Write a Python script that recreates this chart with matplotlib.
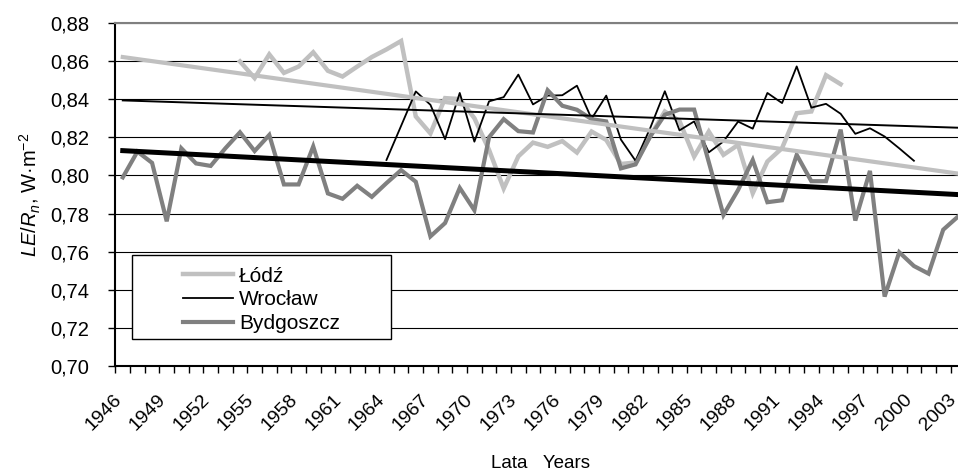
import numpy as np
import matplotlib
matplotlib.use('Agg')
import matplotlib.pyplot as plt
import matplotlib.transforms as mtransforms
from matplotlib.patches import Rectangle

plt.rcParams['font.family'] = ['Liberation Sans', 'DejaVu Sans']
plt.rcParams['mathtext.fontset'] = 'custom'
plt.rcParams['mathtext.rm'] = 'Liberation Sans'
plt.rcParams['mathtext.it'] = 'Liberation Sans:italic'

# data
years = np.arange(1946, 2004)

lodz_start = 1954
lodz = [0.8597, 0.851, 0.8634, 0.8537, 0.857, 0.8645, 0.8548, 0.8518, 0.857, 0.862,
        0.866, 0.8704, 0.8309, 0.822, 0.8405, 0.840, 0.830, 0.8134, 0.7932, 0.810,
        0.8172, 0.815, 0.818, 0.812, 0.823, 0.8186, 0.806, 0.8068, 0.8205, 0.8335,
        0.8285, 0.8099, 0.823, 0.8108, 0.816, 0.7907, 0.8073, 0.8143, 0.8326, 0.8335,
        0.8525, 0.8478]

wroclaw_start = 1964
wroclaw = [0.8081, 0.826, 0.844, 0.837, 0.819, 0.8432, 0.8177, 0.8388, 0.841, 0.8528,
           0.8372, 0.8418, 0.8420, 0.847, 0.8297, 0.8418, 0.8188, 0.8077, 0.8248, 0.8441,
           0.8236, 0.8283, 0.8121, 0.8178, 0.8282, 0.8245, 0.8432, 0.8379, 0.8571, 0.8355,
           0.8375, 0.8323, 0.8218, 0.8247, 0.8204, 0.8142, 0.8077]

bydgoszcz_start = 1946
bydgoszcz = [0.799, 0.8125, 0.8066, 0.776, 0.8142, 0.8063, 0.805, 0.8142, 0.8226, 0.8128,
             0.8212, 0.7953, 0.7953, 0.8152, 0.7906, 0.7878, 0.7946, 0.7888, 0.796, 0.8028,
             0.7967, 0.7681, 0.7751, 0.7935, 0.7818, 0.820, 0.8295, 0.8232, 0.8225, 0.8446,
             0.8365, 0.8344, 0.8295, 0.8283, 0.8037, 0.8058, 0.8204, 0.8318, 0.8345, 0.8345,
             0.807, 0.7793, 0.7924, 0.8081, 0.786, 0.787, 0.8108, 0.797, 0.797, 0.824,
             0.7764, 0.8024, 0.7366, 0.7598, 0.7526, 0.7486, 0.7716, 0.7784]

# linear trend lines (ends as drawn)
trend_years = [1946, 2003]
lodz_trend = [0.862, 0.801]
wroclaw_trend = [0.8393, 0.825]
bydgoszcz_trend = [0.813, 0.790]

y_ticks = np.round(np.arange(0.70, 0.8801, 0.02), 2)
x_labels = np.arange(1946, 2004, 3)

fig = plt.figure(figsize=(9.58, 4.73), dpi=100)
# plot area runs a little past the right edge of the picture (cropped)
ax = fig.add_axes([0.1205, 0.2252, 0.887, 0.7269])

ly = np.arange(lodz_start, lodz_start + len(lodz))
wy = np.arange(wroclaw_start, wroclaw_start + len(wroclaw))
by = np.arange(bydgoszcz_start, bydgoszcz_start + len(bydgoszcz))

l1, = ax.plot(ly, lodz, color='#c0c0c0', lw=3.2, label='Łódź', zorder=3,
              solid_joinstyle='miter')
l2, = ax.plot(wy, wroclaw, color='black', lw=1.3, label='Wrocław', zorder=3)
l3, = ax.plot(by, bydgoszcz, color='#808080', lw=3.0, label='Bydgoszcz', zorder=3,
              solid_joinstyle='miter')

ax.plot(trend_years, lodz_trend, color='#c0c0c0', lw=3.0, zorder=4)
ax.plot(trend_years, wroclaw_trend, color='black', lw=1.4, zorder=4)
ax.plot(trend_years, bydgoszcz_trend, color='black', lw=3.6, zorder=4)

ax.set_xlim(1945.5, 2003.5)
ax.set_ylim(0.70, 0.88)
ax.set_yticks(y_ticks)
ax.set_yticklabels([('%.2f' % v).replace('.', ',') for v in y_ticks], fontsize=14.5)
ax.yaxis.grid(True, color='black', lw=0.8)
ax.set_axisbelow(True)
ax.tick_params(axis='y', length=5, width=1, pad=14, direction='out')

ax.set_xticks(x_labels)
ax.set_xticklabels([str(y) for y in x_labels], rotation=45, ha='right',
                   rotation_mode='anchor', fontsize=14)
ax.set_xticks(np.arange(1945.5, 2004, 1), minor=True)
ax.tick_params(axis='x', which='major', length=0, pad=18)
ax.tick_params(axis='x', which='minor', length=5, width=1, direction='out')
shift = mtransforms.ScaledTranslation(-10 / 100, 0, fig.dpi_scale_trans)
for t in ax.get_xticklabels():
    t.set_transform(t.get_transform() + shift)

for s in ['left', 'bottom']:
    ax.spines[s].set_color('black')
    ax.spines[s].set_linewidth(1.5)
ax.spines['top'].set_color('#808080')
ax.spines['top'].set_linewidth(1.5)
ax.spines['right'].set_visible(False)

ax.set_ylabel(r'$LE/R_n$, W·m$^{-2}$', fontsize=14.5, labelpad=5)
ax.set_xlabel('Lata   Years', fontsize=13.5, va='baseline')
ax.xaxis.set_label_coords(0.5, -0.294)

ax.add_patch(Rectangle((0.0195, 0.080), 0.3048, 0.2443, transform=ax.transAxes,
                       facecolor='white', edgecolor='black', lw=1.0, zorder=5))
leg = ax.legend(handles=[l1, l2, l3], loc='upper left', bbox_to_anchor=(0.0795, 0.29),
                frameon=False, fontsize=15, handlelength=2.4, handletextpad=0.3,
                labelspacing=0.22, borderpad=0, borderaxespad=0)
leg.set_zorder(6)

fig.savefig('out.png', dpi=100)
